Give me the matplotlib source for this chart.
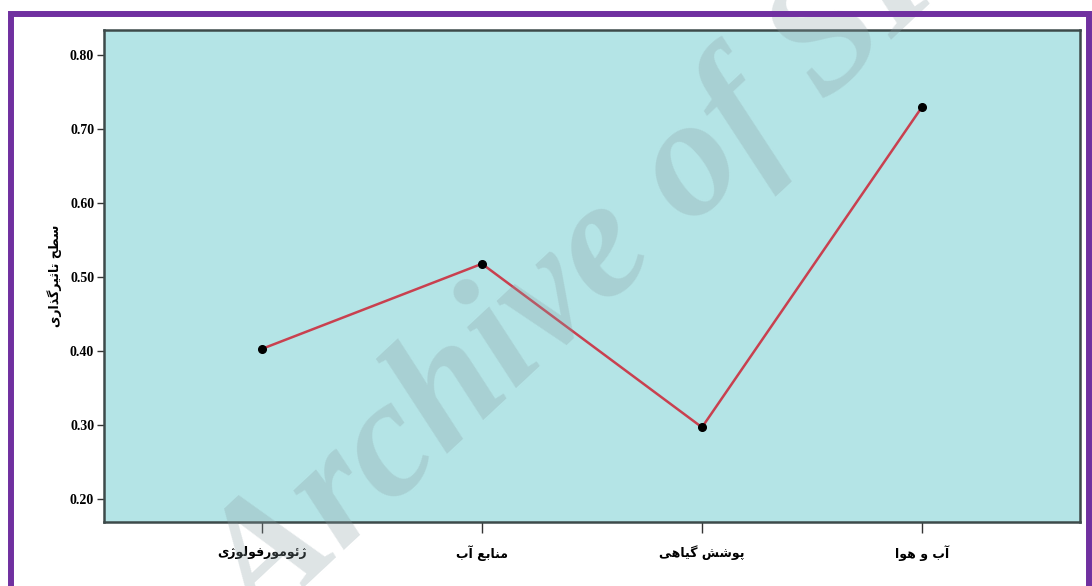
import matplotlib
matplotlib.use("Agg")
import matplotlib.pyplot as plt
from matplotlib.patches import Rectangle

### Data ###
categories = ["ژئومورفولوژی", "منابع آب", "پوشش گیاهی", "آب و هوا"]
values = [0.403, 0.518, 0.297, 0.730]
y_ticks = [0.20, 0.30, 0.40, 0.50, 0.60, 0.70, 0.80]
y_label = "سطح تاثیرگذاری"
watermark = "Archive of SID"
############

# Arabic presentation forms: isolated, final, initial, medial (None = right-joining only)
FORMS = {
    "ا": (0xFE8D, 0xFE8E, None, None),
    "آ": (0xFE81, 0xFE82, None, None),
    "ب": (0xFE8F, 0xFE90, 0xFE91, 0xFE92),
    "پ": (0xFB56, 0xFB57, 0xFB58, 0xFB59),
    "ت": (0xFE95, 0xFE96, 0xFE97, 0xFE98),
    "ث": (0xFE99, 0xFE9A, 0xFE9B, 0xFE9C),
    "ح": (0xFEA1, 0xFEA2, 0xFEA3, 0xFEA4),
    "ذ": (0xFEAB, 0xFEAC, None, None),
    "ر": (0xFEAD, 0xFEAE, None, None),
    "ژ": (0xFB8A, 0xFB8B, None, None),
    "س": (0xFEB1, 0xFEB2, 0xFEB3, 0xFEB4),
    "ش": (0xFEB5, 0xFEB6, 0xFEB7, 0xFEB8),
    "ط": (0xFEC1, 0xFEC2, 0xFEC3, 0xFEC4),
    "ع": (0xFEC9, 0xFECA, 0xFECB, 0xFECC),
    "ف": (0xFED1, 0xFED2, 0xFED3, 0xFED4),
    "گ": (0xFB92, 0xFB93, 0xFB94, 0xFB95),
    "ل": (0xFEDD, 0xFEDE, 0xFEDF, 0xFEE0),
    "م": (0xFEE1, 0xFEE2, 0xFEE3, 0xFEE4),
    "ن": (0xFEE5, 0xFEE6, 0xFEE7, 0xFEE8),
    "ه": (0xFEE9, 0xFEEA, 0xFEEB, 0xFEEC),
    "و": (0xFEED, 0xFEEE, None, None),
    "ی": (0xFBFC, 0xFBFD, 0xFBFE, 0xFBFF),
    "ئ": (0xFE89, 0xFE8A, 0xFE8B, 0xFE8C),
}


def shape(text):
    out = []
    for i, ch in enumerate(text):
        if ch not in FORMS:
            out.append(ch)
            continue
        prev = text[i - 1] if i > 0 else None
        nxt = text[i + 1] if i + 1 < len(text) else None
        f = FORMS[ch]
        join_prev = prev in FORMS and FORMS[prev][2] is not None
        join_next = f[2] is not None and nxt in FORMS
        if join_prev and join_next:
            out.append(chr(f[3]))
        elif join_prev:
            out.append(chr(f[1]))
        elif join_next:
            out.append(chr(f[2]))
        else:
            out.append(chr(f[0]))
    return "".join(out)[::-1]


fig = plt.figure(figsize=(10.92, 5.86), dpi=100)
fig.patch.set_facecolor("white")
ax = fig.add_axes([0.0952, 0.1092, 0.8938, 0.8396])
ax.set_facecolor("#b4e4e6")

x = list(range(len(categories)))
ax.plot(x, values, color="#c9404f", lw=1.8, zorder=3)
ax.plot(x, values, "o", color="black", ms=5.5, zorder=4)

ax.set_xlim(-0.718, 3.718)
ax.set_ylim(0.169, 0.834)
ax.set_yticks(y_ticks)
ax.set_yticklabels(["%.2f" % v for v in y_ticks], fontfamily="Liberation Serif",
                   fontweight="bold", fontsize=10)
ax.set_xticks(x)
ax.set_xticklabels([shape(c) for c in categories], fontfamily="DejaVu Sans",
                   fontweight="bold", fontsize=9)
ax.set_ylabel(shape(y_label), fontfamily="DejaVu Sans", fontweight="bold",
              fontsize=9, labelpad=6)
ax.tick_params(direction="out", length=5, width=1, color="#333333", pad=2)
ax.tick_params(axis="x", length=8, pad=9)
for s in ax.spines.values():
    s.set_color("#3d4a4a")
    s.set_linewidth(1.8)

# purple frame
fig.add_artist(Rectangle((10.5 / 1092, -0.1), 1078.5 / 1092, 1.1 - 14 / 586,
                         transform=fig.transFigure, fill=False,
                         edgecolor="#7030a0", lw=4.3, zorder=10))

# watermark
fig.text(180 / 1092, 1 - 625 / 586, watermark, rotation=43, fontsize=122,
         fontfamily="Liberation Serif", fontweight="bold", fontstyle="italic",
         color="#8a9ea3", alpha=0.28, ha="left", va="baseline", zorder=5)

fig.savefig("out.png", dpi=100)
